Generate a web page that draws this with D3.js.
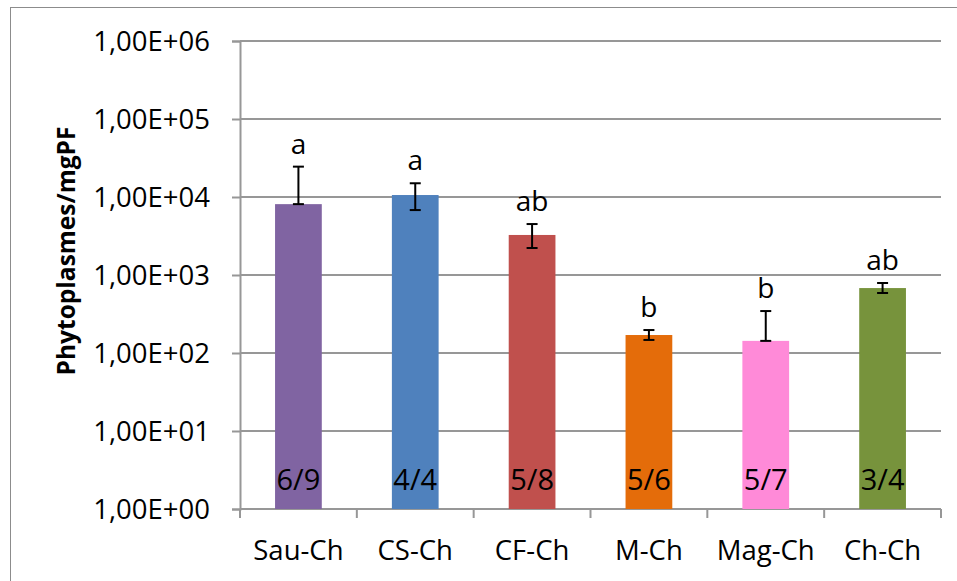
<!DOCTYPE html>
<html>
<head>
<meta charset="utf-8">
<script src="https://cdn.jsdelivr.net/npm/d3@7"></script>
<style>
  body { margin: 0; background: #fff; }
  text { font-family: "Open Sans", sans-serif; fill: #000; }
</style>
</head>
<body>
<div id="chart"></div>
<script>
// data
var groups = ["Sau-Ch", "CS-Ch", "CF-Ch", "M-Ch", "Mag-Ch", "Ch-Ch"];
var means = [8100, 10600, 3260, 170, 143, 680];
var errHigh = [24500, 15000, 4500, 197, 345, 790];
var errLow = [8100, 6800, 2220, 147, 143, 588];
var letters = ["a", "a", "ab", "b", "b", "ab"];
var counts = ["6/9", "4/4", "5/8", "5/6", "5/7", "3/4"];
var colors = ["#8064a2", "#4f81bd", "#c0504d", "#e46c0a", "#ff8ad8", "#77933c"];
var yTicks = [1, 10, 100, 1000, 10000, 100000, 1000000];

var width = 957, height = 581;
var plot = { left: 240, right: 941, top: 41, bottom: 509 };

var svg = d3.select("#chart")
  .append("svg")
  .attr("width", width)
  .attr("height", height);

// outer chart border
svg.append("rect")
  .attr("x", 10.5).attr("y", 7.5)
  .attr("width", 980).attr("height", 600)
  .attr("fill", "none")
  .attr("stroke", "#8c8c8c")
  .attr("stroke-width", 1);

var x = d3.scaleBand()
  .domain(groups)
  .range([plot.left, plot.right])
  .padding(0);

var y = d3.scaleLog()
  .domain([1, 1000000])
  .range([plot.bottom, plot.top]);

// gridlines
svg.append("g")
  .selectAll("line")
  .data(yTicks)
  .enter().append("line")
  .attr("x1", plot.left).attr("x2", plot.right)
  .attr("y1", function (d) { return y(d); })
  .attr("y2", function (d) { return y(d); })
  .attr("stroke", "#979797")
  .attr("stroke-width", 2);

// Y axis
var yAxis = svg.append("g")
  .attr("transform", "translate(" + plot.left + ",0)")
  .call(d3.axisLeft(y)
    .tickValues(yTicks)
    .tickSize(8)
    .tickPadding(22)
    .tickFormat(function (d) {
      return "1,00E+" + String(Math.round(Math.log10(d))).padStart(2, "0");
    }));
yAxis.select(".domain").attr("stroke", "#979797").attr("stroke-width", 2);
yAxis.selectAll(".tick line").attr("stroke", "#979797").attr("stroke-width", 2);
yAxis.selectAll(".tick text")
  .style("font-size", "27.5px")
  .style("font-family", "'Open Sans', sans-serif")
  .attr("dy", "0.34em");

// X axis ticks at band edges
var edges = groups.map(function (g) { return x(g); }).concat([plot.right]);
svg.append("g")
  .selectAll("line")
  .data(edges)
  .enter().append("line")
  .attr("x1", function (d) { return d; })
  .attr("x2", function (d) { return d; })
  .attr("y1", plot.bottom)
  .attr("y2", plot.bottom + 9)
  .attr("stroke", "#979797")
  .attr("stroke-width", 2);

// category labels
svg.append("g")
  .selectAll("text")
  .data(groups)
  .enter().append("text")
  .attr("x", function (d) { return x(d) + x.bandwidth() / 2; })
  .attr("y", 560)
  .attr("text-anchor", "middle")
  .style("font-size", "27.5px")
  .text(function (d) { return d; });

// Y axis title
svg.append("text")
  .attr("transform", "translate(75,251) rotate(-90)")
  .attr("text-anchor", "middle")
  .style("font-size", "24.5px")
  .style("font-weight", "bold")
  .text("Phytoplasmes/mgPF");

var barW = x.bandwidth() * 0.4;
function cx(i) { return x(groups[i]) + x.bandwidth() / 2; }

// bars
svg.append("g")
  .selectAll("rect")
  .data(means)
  .enter().append("rect")
  .attr("x", function (d, i) { return cx(i) - barW / 2; })
  .attr("y", function (d) { return y(d); })
  .attr("width", barW)
  .attr("height", function (d) { return y(1) - y(d); })
  .attr("fill", function (d, i) { return colors[i]; });

// error bars
var eb = svg.append("g").attr("stroke", "#000").attr("stroke-width", 2);
means.forEach(function (m, i) {
  var c = cx(i);
  eb.append("line")
    .attr("x1", c).attr("x2", c)
    .attr("y1", y(errHigh[i])).attr("y2", y(errLow[i]));
  [errHigh[i], errLow[i]].forEach(function (v) {
    eb.append("line")
      .attr("x1", c - 5.5).attr("x2", c + 5.5)
      .attr("y1", y(v)).attr("y2", y(v));
  });
});

// significance letters
svg.append("g")
  .selectAll("text")
  .data(letters)
  .enter().append("text")
  .attr("x", function (d, i) { return cx(i); })
  .attr("y", function (d, i) { return y(errHigh[i]) - 13; })
  .attr("text-anchor", "middle")
  .style("font-size", "28px")
  .text(function (d) { return d; });

// counts inside bars
svg.append("g")
  .selectAll("text")
  .data(counts)
  .enter().append("text")
  .attr("x", function (d, i) { return cx(i); })
  .attr("y", 490)
  .attr("text-anchor", "middle")
  .style("font-size", "29px")
  .text(function (d) { return d; });
</script>
</body>
</html>
